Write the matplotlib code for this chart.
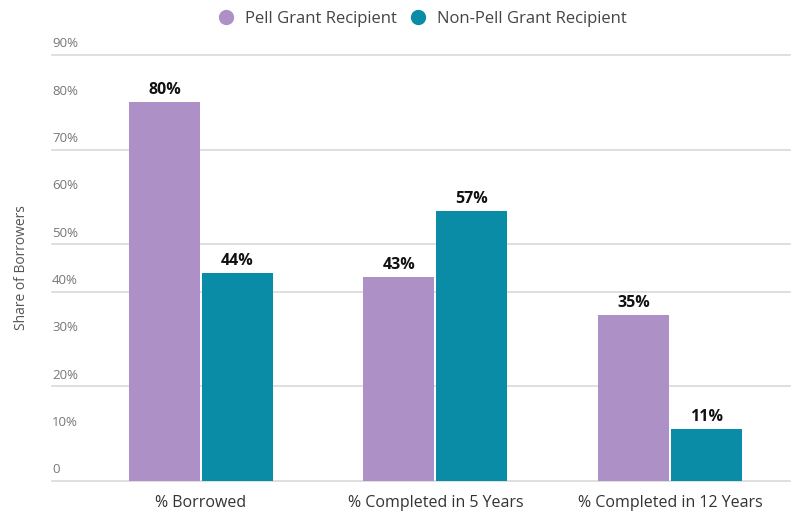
import numpy as np
import matplotlib.pyplot as plt
from matplotlib.lines import Line2D

# Data
categories = ["% Borrowed", "% Completed in 5 Years", "% Completed in 12 Years"]
pell = [80, 43, 35]
non_pell = [44, 57, 11]
series_names = ["Pell Grant Recipient", "Non-Pell Grant Recipient"]
y_ticks = [0, 10, 20, 30, 40, 50, 60, 70, 80, 90]
y_tick_labels = ["0", "10%", "20%", "30%", "40%", "50%", "60%", "70%", "80%", "90%"]
grid_levels = [0, 20, 40, 50, 70, 90]

purple = "#ac90c6"
teal = "#0b8ca6"

plt.rcParams['font.family'] = ['Open Sans', 'DejaVu Sans']

fig = plt.figure(figsize=(8.01, 5.15), dpi=100)
ax = fig.add_axes([52 / 801, 34 / 515, 738 / 801, 426 / 515])

x = np.arange(len(categories))
w = 0.303
off = 0.1555

b1 = ax.bar(x - off, pell, w, color=purple, zorder=2)
b2 = ax.bar(x + off, non_pell, w, color=teal, zorder=2)

for bars, vals in [(b1, pell), (b2, non_pell)]:
    for rect, v in zip(bars, vals):
        ax.annotate(f"{v}%", (rect.get_x() + rect.get_width() / 2, v),
                    xytext=(0, 3), textcoords="offset points",
                    ha="center", va="bottom", fontsize=11.5,
                    fontweight="bold", color="#111111")

# gridlines (only those visible in the original)
for g in grid_levels:
    ax.axhline(g, color="#d9d9d9", linewidth=1.2, zorder=1, clip_on=False)

ax.set_xlim(-0.635, 2.512)
ax.set_ylim(0, 90)

# y labels drawn above the gridlines, left-aligned
ax.set_yticks([])
for t, lab in zip(y_ticks, y_tick_labels):
    ax.text(0, t + 1.0, lab, transform=ax.get_yaxis_transform(),
            ha="left", va="bottom", fontsize=9.5, color="#777777", zorder=3)

ax.set_xticks(x)
ax.set_xticklabels(categories, fontsize=11.5, color="#333333")
ax.tick_params(axis="x", length=0, pad=10)

for s in ax.spines.values():
    s.set_visible(False)

fig.text(22 / 801, 0.48, "Share of Borrowers", rotation=90, ha="center",
         va="center", fontsize=10, color="#555555")

handles = [Line2D([], [], marker="o", linestyle="", markersize=10, color=purple),
           Line2D([], [], marker="o", linestyle="", markersize=10, color=teal)]
fig.legend(handles, series_names, loc="center", bbox_to_anchor=(418 / 801, 1 - 19 / 515),
           ncol=2, frameon=False, fontsize=12, handletextpad=0.15,
           columnspacing=0.3, labelcolor="#444444")

fig.savefig("out.png", dpi=100)
